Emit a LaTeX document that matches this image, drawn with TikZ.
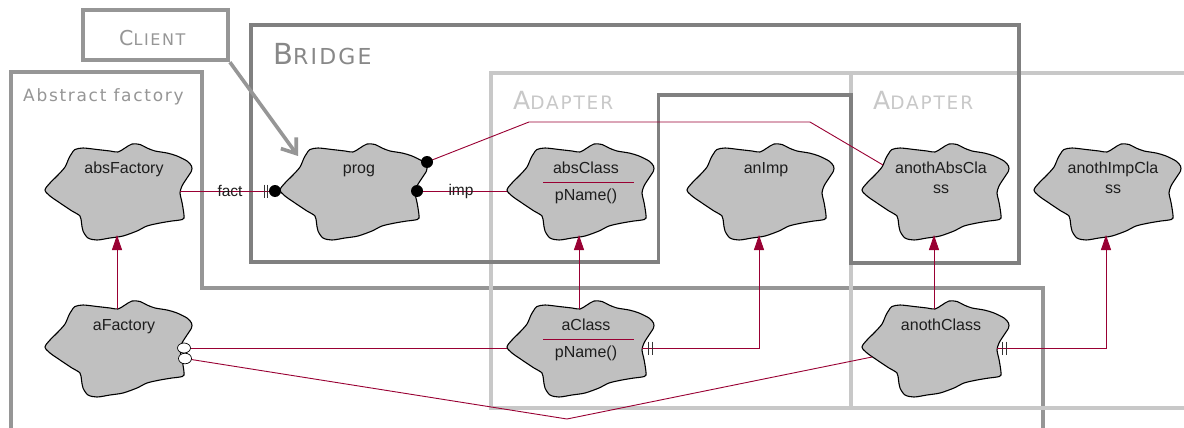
\documentclass[tikz,border=0pt]{standalone}
\usepackage{fontspec}
\setmainfont{Liberation Sans}
\newfontfamily\labelfont[LetterSpace=10]{DejaVu Sans}
\usetikzlibrary{arrows.meta}

\definecolor{assoc}{RGB}{153,0,51}
\definecolor{cloudgray}{RGB}{192,192,192}
\definecolor{framedark}{RGB}{128,128,128}
\definecolor{framemid}{RGB}{150,150,150}
\definecolor{framelight}{RGB}{200,200,200}
\definecolor{labeldark}{RGB}{136,136,136}
\definecolor{inktext}{RGB}{30,30,30}

% class name split over two lines, baseline on the first line
\newcommand\twolines[2]{\begin{tabular}[t]{@{}c@{}}#1\\#2\end{tabular}}
% small-caps look: big initial, smaller capitals after it
\newcommand\capslabel[4]{{\labelfont\fontsize{#1}{#1}\selectfont #3\fontsize{#2}{#2}\selectfont #4}}

\tikzset{
  cloudoutline/.style={fill=cloudgray, draw=black, line width=1.1pt},
  classname/.style={anchor=base, inner sep=0pt, text=inktext, font=\fontsize{16}{20}\selectfont},
  assoclabel/.style={inner sep=0pt, text=inktext, font=\fontsize{15.5}{15.5}\selectfont},
  conn/.style={draw=assoc, line width=0.9pt},
  inherit/.style={conn, -{Triangle[length=15pt,width=10pt]}},
  frame/.style={line width=3.8pt, line join=miter},
  framelabel/.style={anchor=base west, inner sep=0pt},
  tick/.style={draw=black!80, line width=0.7pt},
  enddot/.style={fill=black},
  port/.style={fill=white, draw=black, line width=0.7pt},
  % Booch class icon: the cloud, its attachment points and its name
  pics/booch/.style={code={
    \path[cloudoutline] plot[smooth cycle, tension=0.5] coordinates {
      (0,46) (5,39) (13,31) (20,23) (24,14) (27,9) (30,5.5) (38,4) (52,5.5)
      (65,7) (73,8) (80,4) (87,0) (95,0.5) (102,4) (110,7) (122,9) (132,12)
      (142,17) (146.5,22) (146.5,27) (142,34) (137,42) (135,49) (136.5,56)
      (138,64) (139,74) (135,76) (127,77) (115,79) (102,82) (92,87) (78,92)
      (65,94) (52,96) (43,94) (38,87) (36.5,79) (35,72) (27,67) (15,59) (5,52)};
    \coordinate (-w) at (0,47);
    \coordinate (-e) at (135,47);
    \coordinate (-n) at (72,8);
    \coordinate (-s) at (72,91);
    \coordinate (-ne) at (147,18);
    \coordinate (-nw) at (21,21);
    \coordinate (-sw) at (10,56);
    \coordinate (-o1) at (139,47);
    \coordinate (-o2) at (140,57.5);
    \coordinate (-sl) at (36,38.5);
    \coordinate (-sr) at (127,38.5);
    \coordinate (-ops) at (79,56);
    \node[classname] (-name) at (79,29.5) {#1};
  }},
}

\begin{document}
\begin{tikzpicture}[x=1pt, y=-1pt]
  \fill[white] (0,0) rectangle (1184,428);
  \useasboundingbox (0,0) rectangle (1184,428);
  \clip (0,0) rectangle (1184,428);

  % ---- pattern frames ----
  \draw[frame, framemid] (10.8,440) -- (10.8,72) -- (202,72) -- (202,288)
        -- (1042.7,288) -- (1042.7,440);
  \draw[frame, framelight] (491.3,72.7) rectangle (851,408);
  \draw[frame, framelight] (1190,72.7) -- (851,72.7) (851,408) -- (1190,408);
  \draw[frame, framedark] (251.3,24.7) -- (1019,24.7) -- (1019,262.7) -- (851,262.7)
        -- (851,95.3) -- (658.5,95.3) -- (658.5,262.2) -- (251.3,262.2) -- cycle;
  \node[draw=framemid, line width=3.8pt, minimum width=145pt, minimum height=50pt,
        inner sep=0pt] (client) at (155.5,35.3) {};

  \node[framelabel, text=framemid] (clientText) at (119,46) {\capslabel{20.5}{16}{C}{LIENT}};
  \node[framelabel, text=labeldark] (bridgeText) at (273,65) {\capslabel{29}{22}{B}{RIDGE}};
  \node[framelabel, text=framemid, font=\labelfont\fontsize{17}{17}\selectfont]
        (factoryText) at (23,101.7) {Abstract factory};
  \node[framelabel, text=framelight] (adapterTextA) at (513,109.3) {\capslabel{25}{18.5}{A}{DAPTER}};
  \node[framelabel, text=framelight] (adapterTextB) at (873,109.3) {\capslabel{25}{18.5}{A}{DAPTER}};

  % client pointer
  \coordinate (clientTip) at (298,156);
  \draw[framemid, line width=3.6pt, -{Straight Barb[length=13pt,width=19pt]}]
        (client.south east) -- (clientTip);

  % ---- classes ----
  \pic (absFactory)    at (45,144)   {booch={absFactory}};
  \pic (prog)          at (280,144)  {booch={prog}};
  \pic (absClass)      at (507,144)  {booch={absClass}};
  \pic (anImp)         at (687,144)  {booch={anImp}};
  \pic (anothAbsClass) at (862,144)  {booch={\twolines{anothAbsCla}{ss}}};
  \pic (anothImpClass) at (1034,144) {booch={\twolines{anothImpCla}{ss}}};
  \pic (aFactory)      at (45,301)   {booch={aFactory}};
  \pic (aClass)        at (507,301)  {booch={aClass}};
  \pic (anothClass)    at (862,301)  {booch={anothClass}};

  % operation compartments
  \draw[conn] (absClass-sl) -- (absClass-sr);
  \node[classname] (absClassOp) at (absClass-ops) {pName()};
  \draw[conn] (aClass-sl) -- (aClass-sr);
  \node[classname] (aClassOp) at (aClass-ops) {pName()};

  % ---- associations ----
  \draw[conn] (absFactory-e) -- node[assoclabel] {fact} (prog-w);
  \draw[conn] (prog-e) -- node[assoclabel] {imp} (absClass-w);
  \draw[conn] (prog-ne) -- (529,122) -- (810,122) -- (anothAbsClass-nw);
  \draw[conn] (aFactory-o1) -- (aClass-w);
  \draw[conn] (aFactory-o2) -- (567,419) -- (anothClass-sw);

  % ---- inheritance ----
  \draw[inherit] (aFactory-n) -- (absFactory-s);
  \draw[inherit] (aClass-n) -- (absClass-s);
  \draw[inherit] (aClass-e) -| (anImp-s);
  \draw[inherit] (anothClass-n) -- (anothAbsClass-s);
  \draw[inherit] (anothClass-e) -| (anothImpClass-s);

  % ---- end adornments ----
  \fill[enddot] ([xshift=-5pt]prog-w) circle[radius=6pt];
  \fill[enddot] ([xshift=2pt]prog-e) circle[radius=6pt];
  \fill[enddot] (prog-ne) circle[radius=6pt];
  \draw[tick] ([xshift=-16pt]prog-w) ++(0,-6.5) -- ++(0,13);
  \draw[tick] ([xshift=-13pt]prog-w) ++(0,-6.5) -- ++(0,13);
  \draw[tick] ([xshift=6pt]aClass-e) ++(0,-6.5) -- ++(0,13);
  \draw[tick] ([xshift=10pt]aClass-e) ++(0,-6.5) -- ++(0,13);
  \draw[tick] ([xshift=5pt]anothClass-e) ++(0,-6.5) -- ++(0,13);
  \draw[tick] ([xshift=9pt]anothClass-e) ++(0,-6.5) -- ++(0,13);
  \filldraw[port] (aFactory-o2) ellipse[x radius=6.5, y radius=5.3];
  \filldraw[port] (aFactory-o1) ellipse[x radius=6.5, y radius=5];
\end{tikzpicture}
\end{document}
